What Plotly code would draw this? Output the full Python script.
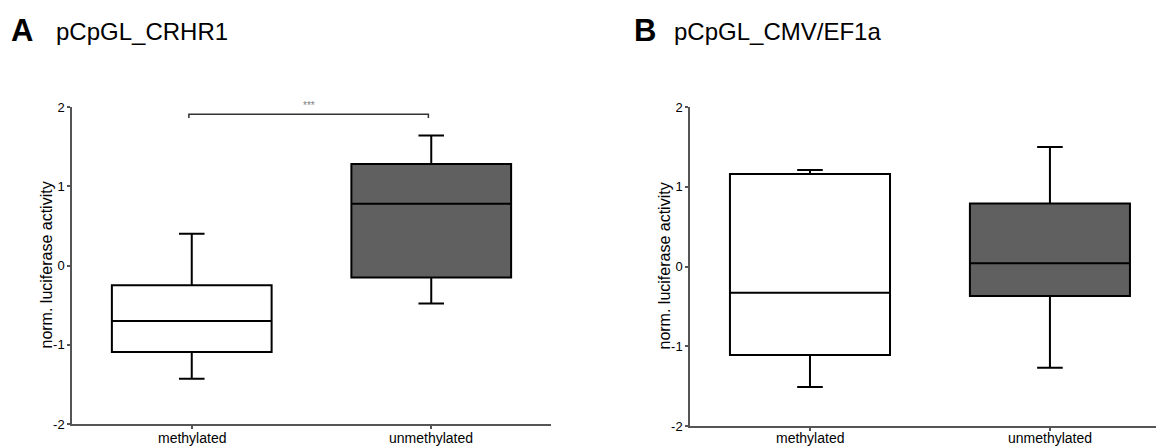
import plotly.graph_objects as go

W, H = 1157, 446

categories = ["methylated", "unmethylated"]

# Panel A: pCpGL_CRHR1
a_lower = [-1.43, -0.48]
a_q1 = [-1.09, -0.15]
a_median = [-0.70, 0.78]
a_q3 = [-0.25, 1.28]
a_upper = [0.40, 1.64]

# Panel B: pCpGL_CMV/EF1a
b_lower = [-1.51, -1.27]
b_q1 = [-1.11, -0.37]
b_median = [-0.33, 0.04]
b_q3 = [1.16, 0.79]
b_upper = [1.21, 1.50]

fills = ["#ffffff", "#606060"]
y_ticks = [-2, -1, 0, 1, 2]
sig_pair = [0, 1]
sig_y = 1.91
sig_text = "***"

FONT = "Arial, Liberation Sans, sans-serif"

fig = go.Figure()


def add_panel(lower, q1, med, q3, upper, xa, ya):
    for i, cat in enumerate(categories):
        fig.add_trace(go.Box(
            x=[cat], q1=[q1[i]], median=[med[i]], q3=[q3[i]],
            lowerfence=[lower[i]], upperfence=[upper[i]],
            fillcolor=fills[i], line=dict(color="black", width=2),
            width=0.667, whiskerwidth=0.16, boxpoints=False,
            xaxis=xa, yaxis=ya, showlegend=False, hoverinfo="skip",
        ))


add_panel(a_lower, a_q1, a_median, a_q3, a_upper, "x", "y")
add_panel(b_lower, b_q1, b_median, b_q3, b_upper, "x2", "y2")


def px_x(p):
    return p / W


def px_y(p):
    return (H - p) / H


axis_common = dict(
    showline=True, linecolor="#555", linewidth=1.5, showgrid=False,
    zeroline=False, ticks="outside", ticklen=3, tickcolor="#555", tickwidth=1.5,
    automargin=False,
)

fig.update_layout(
    width=W, height=H, margin=dict(l=0, r=0, t=0, b=0, autoexpand=False),
    paper_bgcolor="white", plot_bgcolor="white",
    font=dict(family=FONT, color="black"),
    xaxis=dict(domain=[px_x(72), px_x(551)], range=[-0.5, 1.5], anchor="y",
               type="category", categoryorder="array", categoryarray=categories,
               showticklabels=False, **axis_common),
    yaxis=dict(domain=[px_y(424), px_y(107)], range=[-2, 2], anchor="x",
               tickvals=y_ticks, ticktext=[str(v) for v in y_ticks],
               tickfont=dict(size=13), **axis_common),
    xaxis2=dict(domain=[px_x(690), px_x(1156)], range=[-0.5, 1.442], anchor="y2",
                type="category", categoryorder="array", categoryarray=categories,
                showticklabels=False, **axis_common),
    yaxis2=dict(domain=[px_y(426), px_y(107)], range=[-2, 2], anchor="x2",
                tickvals=y_ticks, ticktext=[str(v) for v in y_ticks],
                tickfont=dict(size=13), **axis_common),
)

# category labels under each x axis (placed as text so they sit like the reference)
for xref in ["x", "x2"]:
    for cat in categories:
        fig.add_annotation(x=cat, xref=xref, y=px_y(437.5), yref="paper",
                           text=cat, showarrow=False, xanchor="center", yanchor="middle",
                           font=dict(size=14, family=FONT, color="black"))

# significance bracket (panel A)
x0, x1 = sig_pair[0] - 0.012, sig_pair[1] - 0.012
fig.add_shape(type="path",
              path=f"M {x0},{sig_y - 0.05} L {x0},{sig_y} L {x1},{sig_y} L {x1},{sig_y - 0.05}",
              xref="x", yref="y", line=dict(color="#333", width=1.5))
fig.add_annotation(x=(x0 + x1) / 2, y=sig_y, xref="x", yref="y", text=sig_text,
                   showarrow=False, yanchor="bottom", yshift=1,
                   font=dict(size=10, color="#808080", family=FONT))

# y-axis titles
for xp, yp in [(46, 265.5), (664, 266.5)]:
    fig.add_annotation(x=px_x(xp), y=px_y(yp), xref="paper", yref="paper",
                       text="norm. luciferase activity", textangle=-90,
                       showarrow=False, xanchor="center", yanchor="middle",
                       font=dict(size=16, family=FONT, color="black"))

# panel titles
for letter, lx, title, tx in [("A", 9, "pCpGL_CRHR1", 54), ("B", 632, "pCpGL_CMV/EF1a", 672)]:
    fig.add_annotation(x=px_x(lx), y=px_y(31), xref="paper", yref="paper",
                       text=f"<b>{letter}</b>", showarrow=False,
                       xanchor="left", yanchor="middle",
                       font=dict(size=31, family=FONT, color="black"))
    fig.add_annotation(x=px_x(tx), y=px_y(32), xref="paper", yref="paper",
                       text=title, showarrow=False,
                       xanchor="left", yanchor="middle",
                       font=dict(size=24, family=FONT, color="black"))

post = """
var h = document.documentElement, b = document.body;
h.style.margin='0'; h.style.padding='0'; h.style.overflow='hidden';
b.style.margin='0'; b.style.padding='0'; b.style.overflow='hidden';
"""

fig.write_html("out.html", config={"responsive": False, "displayModeBar": False},
               post_script=post)
